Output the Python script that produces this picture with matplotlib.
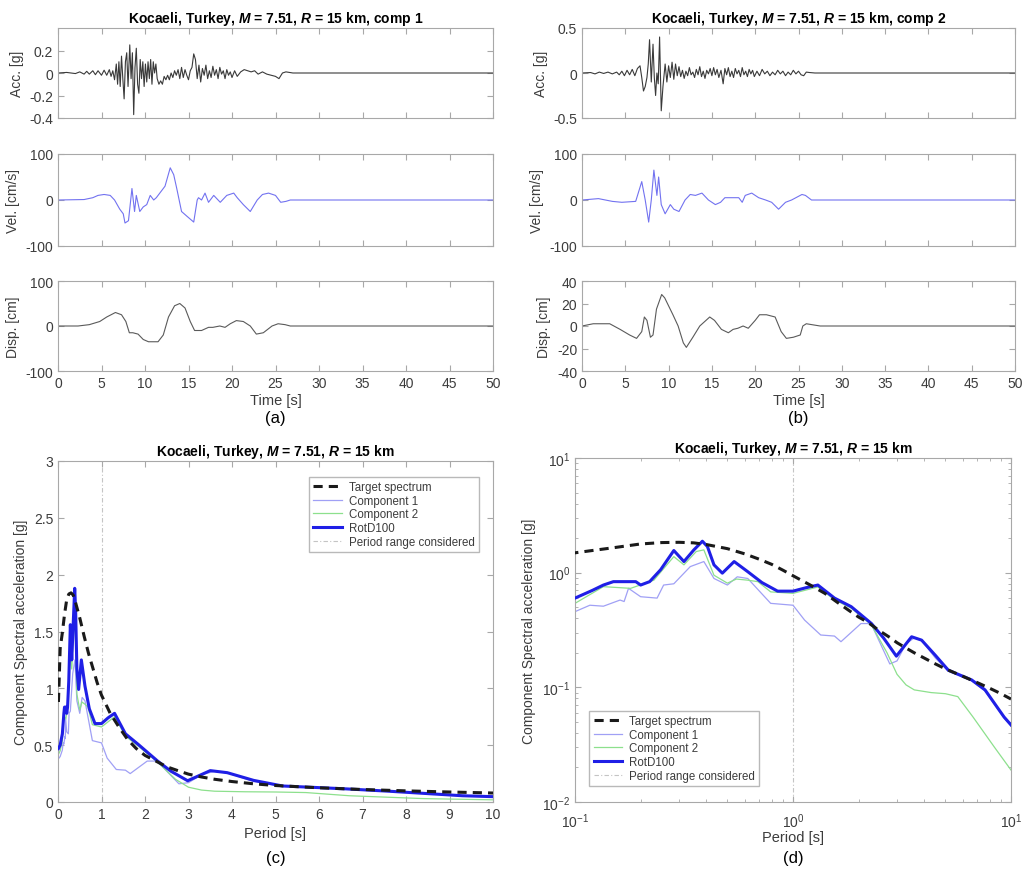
import matplotlib.pyplot as plt
import numpy as np

plt.rcParams["font.family"] = ["Liberation Sans", "DejaVu Sans"]
plt.rcParams["mathtext.fontset"] = "custom"
plt.rcParams["mathtext.rm"] = "Liberation Sans"
plt.rcParams["mathtext.it"] = "Liberation Sans:italic:bold"

# ---- time histories, component 1 ----
acc1_t = [0, 1, 2, 2.5, 3, 3.3, 3.6, 4.0, 4.3, 4.6,
          5.0, 5.3, 5.6, 5.9, 6.1, 6.3, 6.5, 6.7, 6.85, 7.0,
          7.15, 7.3, 7.45, 7.6, 7.75, 7.9, 8.05, 8.25, 8.4, 8.55,
          8.7, 8.85, 9.0, 9.15, 9.3, 9.45, 9.6, 9.75, 9.9, 10.05,
          10.2, 10.35, 10.5, 10.65, 10.8, 10.95, 11.1, 11.25, 11.4, 11.6,
          11.8, 12.0, 12.2, 12.4, 12.6, 12.8, 13.0, 13.2, 13.4, 13.6,
          13.8, 14.0, 14.2, 14.4, 14.6, 14.8, 15.0, 15.2, 15.4, 15.6,
          15.8, 16.0, 16.2, 16.4, 16.6, 16.8, 17.0, 17.2, 17.4, 17.6,
          17.8, 18.0, 18.2, 18.4, 18.6, 18.8, 19.0, 19.2, 19.4, 19.6,
          19.8, 20.0, 20.3, 20.6, 21.0, 21.4, 21.8, 22.2, 22.6, 23.0,
          23.5, 24.0, 24.5, 25.0, 25.4, 25.8, 26.2, 26.6, 27, 50]
acc1_a = [0, 0.005, -0.005, 0.01, -0.01, 0.015, -0.01, 0.02, -0.015, 0.02,
          -0.02, 0.025, -0.02, 0.03, -0.03, 0.02, -0.06, 0.08, -0.1, 0.1,
          -0.12, 0.15, -0.05, -0.23, 0.1, 0.18, -0.12, 0.25, -0.05, 0.18,
          -0.37, 0.05, 0.22, -0.1, -0.18, 0.12, -0.05, 0.1, -0.12, 0.08,
          -0.08, 0.1, -0.05, 0.12, -0.1, 0.1, 0.0, 0.08, -0.05, -0.1,
          -0.07, -0.1, -0.03, -0.06, -0.02, -0.06, 0.0, -0.04, 0.02, -0.02,
          0.03, -0.05, 0.05, -0.04, 0.03, -0.02, -0.06, 0.02, 0.05, 0.17,
          0.12, -0.05, 0.07, -0.08, 0.04, -0.02, 0.07, -0.05, 0.02, -0.04,
          0.06, -0.02, 0.03, -0.05, 0.05, -0.01, 0.02, -0.05, 0.03, -0.02,
          0.01, -0.04, 0.02, -0.03, 0.01, 0.03, 0.02, 0.01, 0.02, -0.01,
          0.01, -0.01, -0.02, -0.03, -0.05, 0.0, 0.01, 0.005, 0, 0]

vel1_t = [0, 3.0, 4.0, 4.6, 5.3, 6.0, 6.5, 7.1, 7.5, 7.7,
          8.1, 8.3, 8.5, 8.8, 9.0, 9.4, 9.8, 10.2, 10.6, 11.0,
          11.3, 11.9, 12.3, 12.9, 13.3, 13.65, 14.2, 14.8, 15.6, 16.0,
          16.15, 16.5, 16.9, 17.3, 17.9, 18.65, 19.4, 20.2, 20.6, 21.3,
          22.1, 22.9, 23.5, 24.2, 25.0, 25.6, 26.2, 26.7, 50]
vel1_v = [0, 1, 5, 10, 12, 10, 0, -20, -30, -50,
          -45, -10, 25, -25, 10, -25, -15, -10, 10, 0,
          5, 20, 30, 70, 55, 25, -25, -35, -48, 0,
          5, 0, 15, -5, 10, -5, 10, 15, 5, -10,
          -25, 0, 12, 15, 10, -5, -3, 0, 0]

disp1_t = [0, 2.3, 3.6, 4.8, 5.6, 6.6, 7.3, 7.8, 8.2, 8.6,
           9.2, 9.8, 10.4, 11.5, 12.1, 12.7, 13.4, 14.0, 14.6, 15.2,
           15.7, 16.5, 17.3, 17.8, 18.6, 19.2, 19.8, 20.5, 21.3, 22.1,
           22.8, 23.6, 24.6, 25.3, 26.1, 26.7, 50]
disp1_d = [0, 0, 3, 10, 20, 30, 25, 10, -15, -15,
           -18, -30, -35, -35, -20, 20, 45, 50, 40, 10,
           -10, -10, -3, -3, 0, -3, 5, 12, 10, 0,
           -18, -15, 0, 5, 3, 0, 0]

# ---- time histories, component 2 ----
acc2_t = [0, 1, 1.5, 2, 2.5, 3, 3.5, 4.0, 4.3, 4.6,
          4.9, 5.2, 5.5, 5.8, 6.1, 6.4, 6.7, 6.9, 7.1, 7.3,
          7.5, 7.65, 7.8, 8.0, 8.2, 8.35, 8.5, 8.65, 8.8, 8.96,
          9.15, 9.35, 9.6, 9.8, 10.0, 10.2, 10.4, 10.6, 10.8, 11.0,
          11.2, 11.4, 11.6, 11.8, 12.0, 12.2, 12.4, 12.6, 12.8, 13.0,
          13.2, 13.4, 13.6, 13.8, 14.0, 14.2, 14.4, 14.6, 14.8, 15.0,
          15.2, 15.4, 15.6, 15.8, 16.05, 16.3, 16.5, 16.7, 16.9, 17.1,
          17.3, 17.5, 17.7, 17.9, 18.1, 18.3, 18.5, 18.7, 18.9, 19.1,
          19.3, 19.5, 19.7, 19.9, 20.2, 20.5, 20.8, 21.1, 21.4, 21.7,
          22.0, 22.3, 22.6, 22.9, 23.2, 23.5, 23.8, 24.1, 24.4, 24.7,
          25.0, 25.3, 25.6, 25.9, 26.3, 26.9, 50]
acc2_a = [0, 0.005, -0.01, 0.01, -0.005, 0.01, -0.01, 0.01, -0.02, 0.02,
          -0.03, 0.03, -0.02, 0.04, -0.03, 0.05, 0.08, -0.05, -0.2, -0.15,
          -0.05, 0.1, 0.37, -0.1, 0.32, -0.05, -0.25, 0.0, -0.12, 0.4,
          -0.42, -0.15, 0.1, -0.1, 0.08, -0.05, 0.12, -0.07, 0.1, -0.03,
          0.07, -0.04, 0.03, -0.06, 0.02, -0.03, 0.06, -0.02, 0.01, -0.05,
          0.04, -0.02, 0.07, -0.04, 0.02, -0.06, 0.03, -0.01, 0.05, -0.03,
          0.06, -0.02, 0.04, -0.05, 0.03, -0.12, 0.05, -0.02, 0.06, -0.04,
          0.02, -0.05, 0.05, -0.01, 0.03, -0.04, 0.06, -0.02, 0.02, -0.04,
          0.04, -0.01, 0.03, -0.04, 0.02, -0.03, 0.04, -0.01, 0.02, -0.03,
          0.01, -0.02, 0.03, -0.01, 0.02, -0.03, 0.01, -0.02, 0.03, -0.01,
          0.02, -0.02, -0.03, 0.01, 0.005, 0, 0]

vel2_t = [0, 1.9, 3.5, 4.6, 6.2, 6.9, 7.3, 7.7, 8.0, 8.3,
          8.65, 8.85, 9.15, 9.6, 10.2, 10.6, 11.2, 11.9, 12.5, 13.1,
          13.85, 14.6, 15.4, 16.0, 16.5, 17.3, 18.1, 18.5, 18.85, 19.6,
          20.4, 21.2, 21.9, 22.7, 23.5, 24.2, 25.4, 25.8, 26.5, 50]
vel2_v = [0, 3, -3, -5, -3, 40, 0, -48, 0, 65,
          10, 50, -10, -30, -10, -20, -25, 0, 12, 10,
          15, 0, -10, -5, 5, 5, 5, -5, 10, 15,
          5, 0, -5, -20, -5, 0, 12, 10, 0, 0]

disp2_t = [0, 1.3, 3.2, 4.4, 5.5, 6.3, 6.9, 7.2, 7.5, 7.9,
           8.2, 8.6, 9.2, 9.55, 10.5, 11.1, 11.7, 12.05, 12.8, 13.6,
           14.75, 15.3, 16.1, 16.9, 17.45, 18.0, 18.6, 19.2, 20.0, 20.5,
           21.3, 22.3, 23.0, 23.6, 24.4, 25.2, 25.5, 25.9, 26.7, 27.5, 50]
disp2_d = [0, 2, 2, -3, -8, -11, -5, 8, 5, -10,
           -8, 15, 28, 25, 10, 0, -15, -19, -10, 0,
           8, 5, -3, -6, -3, -2, 0, -2, 5, 10,
           10, 8, -5, -11, -10, -8, 0, 2, 1, 0, 0]

# ---- response spectra ----
tgt_T = [0.01, 0.05, 0.1, 0.15, 0.2, 0.25, 0.3, 0.35, 0.4, 0.5,
         0.6, 0.7, 0.8, 0.9, 1.0, 1.2, 1.4, 1.6, 1.8, 2.0,
         2.2, 2.5, 2.8, 3.0, 3.3, 3.6, 4.0, 4.5, 5.0, 6.0,
         7.0, 8.0, 9.0, 10.0]
tgt_Sa = [0.88, 1.35, 1.49, 1.65, 1.78, 1.83, 1.84, 1.82, 1.76, 1.62,
          1.46, 1.31, 1.18, 1.05, 0.94, 0.78, 0.66, 0.55, 0.47, 0.41,
          0.37, 0.31, 0.27, 0.245, 0.22, 0.2, 0.18, 0.16, 0.145, 0.125,
          0.11, 0.098, 0.088, 0.079]

c1_T = [0.01, 0.05, 0.1, 0.117, 0.135, 0.161, 0.168, 0.176, 0.2, 0.238,
        0.255, 0.284, 0.338, 0.39, 0.434, 0.5, 0.555, 0.62, 0.79, 1.0,
        1.13, 1.34, 1.55, 1.66, 2.05, 2.28, 2.78, 3.0, 3.3, 3.6,
        3.9, 4.5, 5.16, 6.6, 7.6, 9.3, 10.0]
c1_Sa = [0.38, 0.4, 0.457, 0.52, 0.51, 0.577, 0.56, 0.73, 0.617, 0.6,
         0.78, 0.8, 1.13, 1.25, 0.89, 0.78, 0.92, 0.89, 0.54, 0.52,
         0.386, 0.286, 0.28, 0.25, 0.36, 0.36, 0.16, 0.17, 0.24, 0.27,
         0.255, 0.18, 0.138, 0.114, 0.093, 0.054, 0.046]

c2_T = [0.01, 0.05, 0.1, 0.135, 0.18, 0.23, 0.284, 0.316, 0.36, 0.39,
        0.434, 0.5, 0.55, 0.62, 0.69, 0.79, 1.0, 1.3, 1.55, 1.85,
        2.29, 2.7, 3.0, 3.3, 3.6, 4.3, 5.0, 5.7, 6.7, 8.4, 10.0]
c2_Sa = [0.42, 0.45, 0.54, 0.755, 0.73, 0.86, 1.38, 1.17, 1.53, 1.58,
         0.95, 0.81, 0.88, 0.86, 0.835, 0.68, 0.66, 0.75, 0.58, 0.49,
         0.35, 0.2, 0.13, 0.105, 0.095, 0.09, 0.088, 0.083, 0.055, 0.03, 0.019]

rot_T = [0.01, 0.05, 0.1, 0.12, 0.135, 0.15, 0.19, 0.2, 0.22, 0.247,
         0.284, 0.316, 0.351, 0.384, 0.405, 0.434, 0.474, 0.537, 0.62, 0.72,
         0.85, 1.0, 1.15, 1.3, 1.55, 1.85, 2.29, 2.6, 2.98, 3.5,
         3.89, 4.5, 5.16, 6.6, 7.6, 9.3, 10.0]
rot_Sa = [0.47, 0.5, 0.6, 0.7, 0.78, 0.835, 0.835, 0.78, 0.835, 1.06,
          1.56, 1.25, 1.58, 1.88, 1.69, 1.17, 0.99, 1.25, 1.02, 0.82,
          0.69, 0.69, 0.74, 0.78, 0.6, 0.505, 0.36, 0.27, 0.187, 0.276,
          0.258, 0.19, 0.141, 0.116, 0.095, 0.055, 0.047]

T_RANGE = 1.0
TITLE = r"Kocaeli, Turkey, $M$ = 7.51, $R$ = 15 km"

EDGE = "#a8a8a8"
TXT = "#3c3c3c"


def matlab_axes(ax):
    for s in ax.spines.values():
        s.set_color(EDGE)
        s.set_linewidth(0.8)
    ax.tick_params(which="both", direction="in", top=True, right=True,
                   color=EDGE, labelcolor=TXT, labelsize=10)
    ax.tick_params(which="major", length=4)
    ax.tick_params(which="minor", length=2)


fig = plt.figure(figsize=(10.25, 8.7), dpi=100)

W, H = 1025.0, 870.0


def add_ax(x0, x1, y0, y1):
    return fig.add_axes([x0 / W, 1 - y1 / H, (x1 - x0) / W, (y1 - y0) / H])


# top rows: (a) and (b)
rows = [(29, 119), (155, 247), (282, 372)]
cols = [(58, 493), (582, 1015)]
series = [
    [(acc1_t, acc1_a), (vel1_t, vel1_v), (disp1_t, disp1_d)],
    [(acc2_t, acc2_a), (vel2_t, vel2_v), (disp2_t, disp2_d)],
]
ylims = [[(-0.4, 0.4), (-100, 100), (-100, 100)],
         [(-0.5, 0.5), (-100, 100), (-40, 40)]]
yticks = [[[-0.4, -0.2, 0, 0.2], [-100, 0, 100], [-100, 0, 100]],
          [[-0.5, 0, 0.5], [-100, 0, 100], [-40, -20, 0, 20, 40]]]
ylabels = ["Acc. [g]", "Vel. [cm/s]", "Disp. [cm]"]
colors = ["#3a3a3a", "#7272f0", "#5a5a5a"]
tags = ["(a)", "(b)"]

for c, (x0, x1) in enumerate(cols):
    for r, (y0, y1) in enumerate(rows):
        ax = add_ax(x0, x1, y0, y1)
        t, v = series[c][r]
        ax.plot(t, v, color=colors[r], lw=0.8)
        ax.set_xlim(0, 50)
        ax.set_ylim(*ylims[c][r])
        ax.set_yticks(yticks[c][r])
        ax.set_yticklabels([f"{y:g}" for y in yticks[c][r]])
        ax.set_xticks(np.arange(0, 51, 5))
        ax.set_ylabel(ylabels[r], color=TXT, fontsize=10)
        matlab_axes(ax)
        if r == 0:
            ax.set_title(TITLE + f", comp {c + 1}", fontsize=10, fontweight="bold", pad=4)
        if r < 2:
            ax.set_xticklabels([])
        else:
            ax.set_xlabel("Time [s]", color=TXT, fontsize=10.5, labelpad=2)
            ax.text(0.5, -0.43, tags[c], transform=ax.transAxes, ha="center", va="top", fontsize=12)
    fig.align_ylabels()

# bottom: (c) linear and (d) log spectra
axc = add_ax(58, 493, 462, 803)
axd = add_ax(575, 1011, 459, 803)

for ax in (axc, axd):
    ax.plot(tgt_T, tgt_Sa, color="#1a1a1a", lw=2.2, ls=(0, (3, 2)), label="Target spectrum", zorder=4)
    ax.plot(c1_T, c1_Sa, color="#a0a0f5", lw=0.9, label="Component 1", zorder=2)
    ax.plot(c2_T, c2_Sa, color="#8de08d", lw=0.9, label="Component 2", zorder=2)
    ax.plot(rot_T, rot_Sa, color="#1f1fe6", lw=2.2, label="RotD100", zorder=3)
    ax.axvline(T_RANGE, color="#c4c4c4", lw=0.8, ls=(0, (4, 2, 1, 2)),
               label="Period range considered", zorder=1)
    ax.set_title(TITLE, fontsize=10, fontweight="bold", pad=4)
    ax.set_ylabel("Component Spectral acceleration [g]", color=TXT, fontsize=10)
    matlab_axes(ax)

axc.set_xlabel("Period [s]", color=TXT, fontsize=10.5)
axd.set_xlabel("Period [s]", color=TXT, fontsize=10.5, labelpad=0)

leg_kw = dict(fontsize=8.3, frameon=True, fancybox=False, edgecolor=EDGE,
              handlelength=2.5, handletextpad=0.6, labelspacing=0.15,
              borderpad=0.35, labelcolor=TXT)

axc.set_xlim(0, 10)
axc.set_ylim(0, 3)
axc.set_xticks(np.arange(0, 11, 1))
axc.set_yticks(np.arange(0, 3.01, 0.5))
axc.set_yticklabels(["0", "0.5", "1", "1.5", "2", "2.5", "3"])
axc.legend(loc="upper right", bbox_to_anchor=(0.98, 0.97), **leg_kw)
axc.text(0.5, -0.14, "(c)", transform=axc.transAxes, ha="center", va="top", fontsize=12)

axd.set_xscale("log")
axd.set_yscale("log")
axd.set_xlim(0.1, 10)
axd.set_ylim(0.01, 10)
axd.tick_params(axis="x", which="both", pad=7)
axd.legend(loc="lower left", bbox_to_anchor=(0.02, 0.03), **leg_kw)
axd.text(0.5, -0.14, "(d)", transform=axd.transAxes, ha="center", va="top", fontsize=12)

fig.savefig("out.png", dpi=100)
